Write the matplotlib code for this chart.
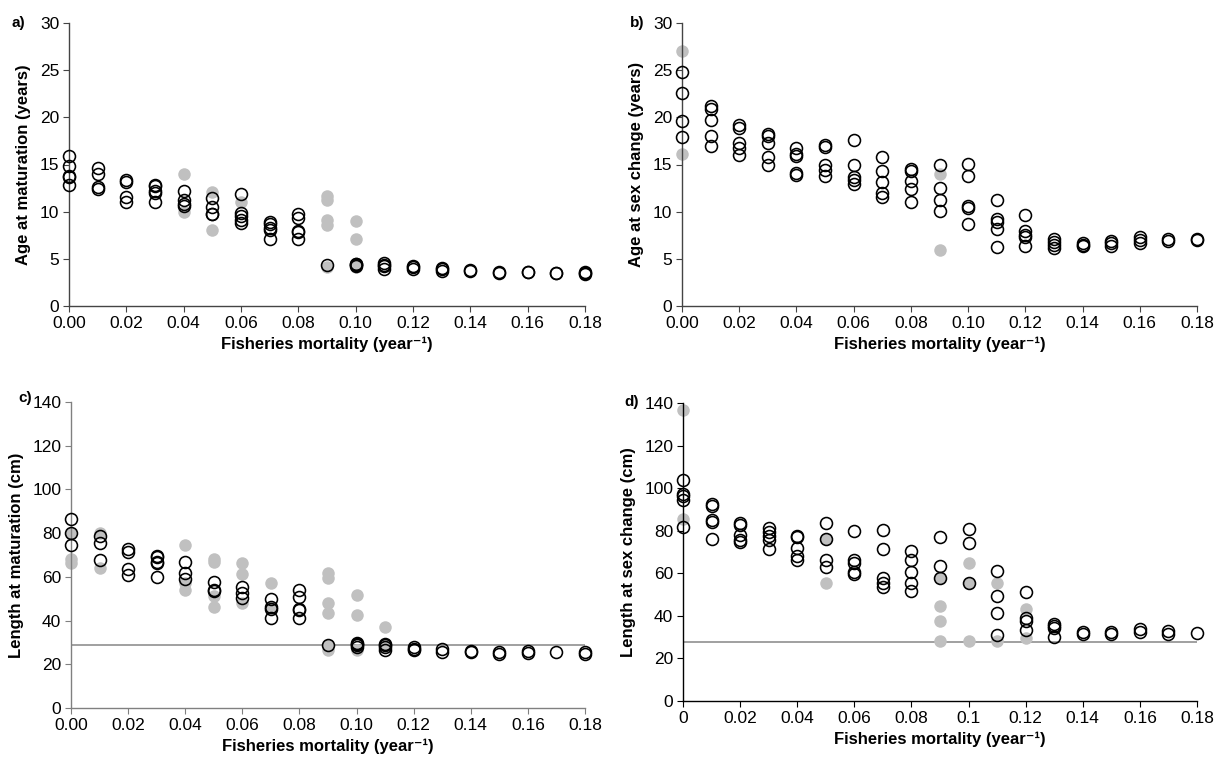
import matplotlib
matplotlib.use("Agg")
import matplotlib.pyplot as plt
from matplotlib.ticker import FixedLocator, FixedFormatter

plt.rcParams['font.family'] = ['Liberation Sans', 'DejaVu Sans']

# Fisheries mortality levels (year^-1)
f_levels = [0.00, 0.01, 0.02, 0.03, 0.04, 0.05, 0.06, 0.07, 0.08, 0.09,
            0.10, 0.11, 0.12, 0.13, 0.14, 0.15, 0.16, 0.17, 0.18]

# a) Age at maturation (years)
age_mat_open = [[15.9, 14.8, 13.8, 13.7, 12.8], [14.6, 14.0, 12.6, 12.4],
                [13.4, 13.1, 11.6, 11.0], [12.8, 12.7, 12.2, 12.0, 11.0],
                [12.2, 11.2, 10.8, 10.6], [11.4, 10.5, 9.8, 9.7],
                [11.9, 9.9, 9.5, 9.1, 8.8], [8.9, 8.7, 8.3, 8.1, 7.1],
                [9.7, 9.3, 8.0, 7.8, 7.1], [4.35], [4.5, 4.4, 4.3, 4.2],
                [4.6, 4.35, 4.2, 3.9], [4.2, 4.1, 3.9], [4.05, 3.9, 3.75],
                [3.8, 3.75], [3.6, 3.55], [3.65, 3.6], [3.55, 3.5], [3.6, 3.5, 3.4]]
age_mat_grey = [[], [], [], [], [14.0, 10.0], [12.1, 8.1], [11.0], [], [],
                [11.7, 11.2, 9.1, 8.6, 4.1], [9.0, 7.1, 4.1], [], [], [], [], [], [], [], []]

# b) Age at sex change (years)
age_sex_open = [[24.8, 22.6, 19.6, 17.9], [21.2, 20.9, 19.7, 18.0, 17.0],
                [19.2, 18.9, 17.3, 16.7, 16.0], [18.2, 18.0, 17.3, 15.8, 15.0],
                [16.8, 16.1, 15.9, 14.1, 13.9], [17.1, 16.9, 15.0, 14.4, 13.8],
                [17.6, 15.0, 13.7, 13.4, 12.9], [15.8, 14.3, 13.1, 12.0, 11.6],
                [14.5, 14.3, 13.2, 12.4, 11.0], [14.9, 12.5, 11.2, 10.1],
                [15.1, 13.8, 10.6, 10.4, 8.7], [11.2, 9.2, 8.9, 8.2, 6.3],
                [9.6, 7.9, 7.5, 7.3, 6.4], [7.1, 6.8, 6.5, 6.2], [6.7, 6.5, 6.4],
                [6.9, 6.65, 6.4], [7.3, 7.0, 6.7], [7.1, 6.9], [7.1, 7.0]]
age_sex_grey = [[27.0, 16.1], [], [], [], [], [], [], [], [], [14.0, 5.9],
                [], [], [], [], [], [], [], [], []]

# c) Length at maturation (cm)
len_mat_open = [[86.4, 79.9, 74.6], [78.9, 75.3, 67.7], [72.7, 71.5, 63.4, 60.8],
                [69.5, 68.9, 66.9, 66.2, 60.1], [66.6, 61.6, 58.8], [57.8, 54.0, 53.5],
                [55.2, 52.7, 50.1], [49.7, 46.3, 45.5, 41.0], [54.0, 50.9, 45.2, 44.8, 41.0],
                [28.7], [29.8, 29.2, 28.7, 28.0], [29.5, 28.8, 28.0, 26.4],
                [28.0, 27.2, 26.7], [26.8, 25.7], [26.0, 25.8], [25.7, 24.9],
                [26.0, 25.3], [25.4], [25.7, 24.9]]
len_mat_grey = [[79.9, 68.0, 66.2], [79.9, 63.9], [], [], [74.6, 57.0, 54.0],
                [68.0, 66.6, 51.4, 46.0], [66.2, 61.3, 48.1], [57.3, 45.8], [],
                [61.6, 59.3, 48.1, 43.3, 28.7, 26.7], [51.7, 42.5, 26.7], [37.1, 28.3],
                [], [], [], [], [], [], []]
len_mat_ref = 28.8

# d) Length at sex change (cm)
len_sex_open = [[103.9, 97.2, 96.1, 94.5, 81.9], [92.5, 91.7, 85.1, 84.3, 76.1],
                [83.5, 82.7, 78.0, 75.7, 74.9], [81.5, 79.3, 77.7, 75.7, 71.3],
                [77.7, 77.2, 72.0, 68.3, 66.2], [83.5, 76.1, 66.2, 63.1],
                [79.9, 66.2, 65.0, 60.4, 59.6], [80.4, 71.3, 57.6, 55.3, 53.7],
                [70.6, 66.2, 60.7, 55.6, 51.6], [76.9, 63.4, 57.6], [80.8, 74.1, 55.3],
                [61.2, 49.1, 41.3, 31.2], [51.2, 39.2, 37.7, 33.3],
                [36.1, 35.2, 34.1, 30.1], [32.5, 31.7], [32.5, 31.4], [33.6, 32.5],
                [32.8, 31.7], [32.0]]
len_sex_grey = [[136.6, 85.4], [], [], [], [], [76.1, 55.3], [], [], [],
                [57.6, 44.6, 37.7, 28.3], [64.7, 55.3, 28.3], [55.6, 28.3],
                [43.0, 29.4], [], [], [], [], [], []]
len_sex_ref = 27.8

tick_f = [0.00, 0.02, 0.04, 0.06, 0.08, 0.10, 0.12, 0.14, 0.16, 0.18]
labels_fixed = ["0.00", "0.02", "0.04", "0.06", "0.08", "0.10", "0.12", "0.14", "0.16", "0.18"]
labels_general = ["0", "0.02", "0.04", "0.06", "0.08", "0.1", "0.12", "0.14", "0.16", "0.18"]

XLABEL = "Fisheries mortality (year\u207b\u00b9)"
GREY = "#c0c0c0"
W, H = 1216, 760


def flatten(groups):
    xs, ys = [], []
    for f, vals in zip(f_levels, groups):
        for v in vals:
            xs.append(f)
            ys.append(v)
    return xs, ys


def rect(left, right, top, bottom):
    return [left / W, 1 - bottom / H, (right - left) / W, (bottom - top) / H]


fig = plt.figure(figsize=(12.16, 7.6), dpi=100)

panels = [
    dict(box=rect(69, 585, 23, 306), open=age_mat_open, grey=age_mat_grey, ymax=30, ystep=5,
         ylabel="Age at maturation (years)", letter="a)", xt=labels_fixed, ref=None,
         spine="#444444", letter_xy=(18, 23)),
    dict(box=rect(682, 1197, 23, 306), open=age_sex_open, grey=age_sex_grey, ymax=30, ystep=5,
         ylabel="Age at sex change (years)", letter="b)", xt=labels_fixed, ref=None,
         spine="#444444", letter_xy=(637, 23)),
    dict(box=rect(71, 585, 402, 708), open=len_mat_open, grey=len_mat_grey, ymax=140, ystep=20,
         ylabel="Length at maturation (cm)", letter="c)", xt=labels_fixed, ref=len_mat_ref,
         spine="#808080", letter_xy=(25, 398)),
    dict(box=rect(683, 1197, 403, 701), open=len_sex_open, grey=len_sex_grey, ymax=140, ystep=20,
         ylabel="Length at sex change (cm)", letter="d)", xt=labels_general, ref=len_sex_ref,
         spine="#000000", letter_xy=(632, 402)),
]

for p in panels:
    ax = fig.add_axes(p["box"])
    ax.set_xlim(0, 0.18)
    ax.set_ylim(0, p["ymax"])
    for s in ("top", "right"):
        ax.spines[s].set_visible(False)
    for s in ("left", "bottom"):
        ax.spines[s].set_color(p["spine"])
        ax.spines[s].set_linewidth(1.0)

    if p["ref"] is not None:
        ax.axhline(p["ref"], color="#999999", lw=1.3, zorder=1)

    gx, gy = flatten(p["grey"])
    ax.plot(gx, gy, linestyle="none", marker="o", markersize=9, markerfacecolor=GREY,
            markeredgecolor=GREY, markeredgewidth=0, clip_on=False, zorder=2)
    ox, oy = flatten(p["open"])
    ax.plot(ox, oy, linestyle="none", marker="o", markersize=8.6, markerfacecolor="none",
            markeredgecolor="black", markeredgewidth=1.15, clip_on=False, zorder=3)

    ax.xaxis.set_major_locator(FixedLocator(tick_f))
    ax.xaxis.set_major_formatter(FixedFormatter(p["xt"]))
    ax.set_yticks(range(0, p["ymax"] + 1, p["ystep"]))
    ax.tick_params(axis="both", direction="out", length=4, width=0.8,
                   color=p["spine"], labelsize=12.5, pad=3)
    ax.set_ylabel(p["ylabel"], fontsize=12, fontweight="bold", labelpad=6)
    ax.set_xlabel(XLABEL, fontsize=12, fontweight="bold", labelpad=4)
    lx, ly = p["letter_xy"]
    fig.text(lx / W, 1 - ly / H, p["letter"], fontsize=11, fontweight="bold",
             ha="center", va="center")

fig.savefig("out.png", dpi=100)
